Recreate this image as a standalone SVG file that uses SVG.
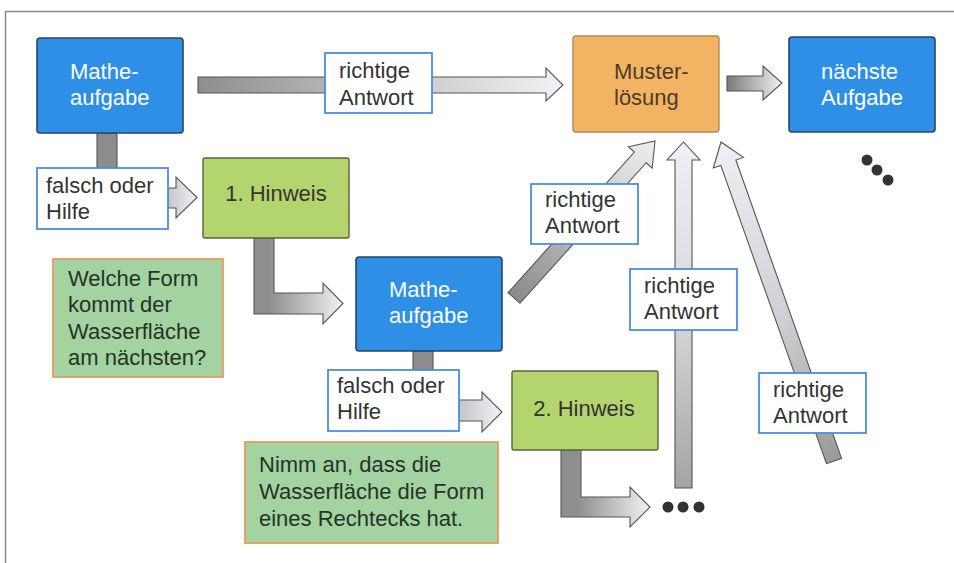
<svg xmlns="http://www.w3.org/2000/svg" width="954" height="563" viewBox="0 0 954 563">
  <defs>
    <style>
      text { font-family: "Liberation Sans", Arial, sans-serif; font-size: 22px; }
      .task { fill: #2e8fe6; stroke: #2b4466; stroke-width: 1.6; }
      .sol { fill: #f2b462; stroke: #b48a5a; stroke-width: 1.4; }
      .hint { fill: #b4d46e; stroke: #55643f; stroke-width: 1.4; }
      .note { fill: #a2d3a0; stroke: #eb9a5c; stroke-width: 1.8; }
      .lbl { fill: #ffffff; stroke: #4a8ee0; stroke-width: 1.8; }
      .wt { fill: #ffffff; }
      .dk { fill: #333333; }
      .nt { fill: #263326; }
      .st { fill: #4a3c2c; }
      .arr { stroke: #555555; stroke-width: 1.1; stroke-linejoin: miter; }
      .dot { fill: #333333; }
    </style>
    <linearGradient id="gTop" gradientUnits="userSpaceOnUse" x1="198" y1="0" x2="563" y2="0">
      <stop offset="0" stop-color="#8e8e8e"/>
      <stop offset="0.45" stop-color="#bdbdbd"/>
      <stop offset="1" stop-color="#f2f2f6"/>
    </linearGradient>
    <linearGradient id="gNext" gradientUnits="userSpaceOnUse" x1="727" y1="0" x2="782" y2="0">
      <stop offset="0" stop-color="#7a7a7a"/>
      <stop offset="1" stop-color="#f2f2f6"/>
    </linearGradient>
    <linearGradient id="gShort1" gradientUnits="userSpaceOnUse" x1="168" y1="0" x2="197" y2="0">
      <stop offset="0" stop-color="#c4c4ca"/>
      <stop offset="1" stop-color="#f2f2f6"/>
    </linearGradient>
    <linearGradient id="gShort2" gradientUnits="userSpaceOnUse" x1="459" y1="0" x2="502" y2="0">
      <stop offset="0" stop-color="#c4c4ca"/>
      <stop offset="1" stop-color="#f2f2f6"/>
    </linearGradient>
    <linearGradient id="gElbow1" gradientUnits="userSpaceOnUse" x1="270" y1="0" x2="343" y2="0">
      <stop offset="0" stop-color="#8e8e8e"/>
      <stop offset="1" stop-color="#f2f2f6"/>
    </linearGradient>
    <linearGradient id="gElbow2" gradientUnits="userSpaceOnUse" x1="577" y1="0" x2="650" y2="0">
      <stop offset="0" stop-color="#8e8e8e"/>
      <stop offset="1" stop-color="#f2f2f6"/>
    </linearGradient>
    <linearGradient id="gDiag" gradientUnits="userSpaceOnUse" x1="514" y1="298" x2="655" y2="141">
      <stop offset="0" stop-color="#8a8a8a"/>
      <stop offset="0.45" stop-color="#bcbcbc"/>
      <stop offset="1" stop-color="#efeff3"/>
    </linearGradient>
    <linearGradient id="gVert" gradientUnits="userSpaceOnUse" x1="0" y1="488" x2="0" y2="142">
      <stop offset="0" stop-color="#a4a4a4"/>
      <stop offset="0.5" stop-color="#d8d8dc"/>
      <stop offset="1" stop-color="#f0f0f4"/>
    </linearGradient>
    <linearGradient id="gRight" gradientUnits="userSpaceOnUse" x1="834" y1="461" x2="721" y2="142">
      <stop offset="0" stop-color="#9a9a9a"/>
      <stop offset="0.45" stop-color="#d0d0d4"/>
      <stop offset="1" stop-color="#f0f0f4"/>
    </linearGradient>
  </defs>

  <rect x="0" y="0" width="954" height="563" fill="#ffffff"/>
  <!-- page frame -->
  <path d="M5.5,563 V11.5 H954" fill="none" stroke="#8a8a8a" stroke-width="1.5"/>

  <!-- connectors -->
  <g id="connectors">
    <!-- Matheaufgabe -> Musterlösung -->
    <polygon class="arr" fill="url(#gTop)" points="198,77 546,77 546,68 563,85 546,101 546,93 198,93"/>
    <!-- Musterlösung -> nächste Aufgabe -->
    <polygon class="arr" fill="url(#gNext)" points="727,76 763,76 763,66 782,83 763,100 763,91 727,91"/>
    <!-- Matheaufgabe down to label -->
    <rect class="arr" x="97" y="133" width="20" height="36" fill="#8c8c8c"/>
    <!-- label -> 1. Hinweis -->
    <polygon class="arr" fill="url(#gShort1)" points="168,188 176,188 176,177 197,197.5 176,218 176,208 168,208"/>
    <!-- 1. Hinweis -> Matheaufgabe 2 -->
    <polygon class="arr" fill="url(#gElbow1)" points="254,238 274,238 274,293 323,293 323,283 343,303.5 323,324 323,314 254,314"/>
    <!-- Matheaufgabe 2 -> Musterlösung (diagonal) -->
    <polygon class="arr" fill="url(#gDiag)" points="508.05,292.66 634.35,152.06 628.4,146.7 655,141 652.2,168.1 646.25,162.74 519.95,303.34"/>
    <!-- Matheaufgabe 2 down to label -->
    <rect class="arr" x="413" y="351" width="20" height="20" fill="#8c8c8c"/>
    <!-- label -> 2. Hinweis -->
    <polygon class="arr" fill="url(#gShort2)" points="459,400 482,400 482,392 502,412 482,432 482,421 459,421"/>
    <!-- 2. Hinweis -> continuation -->
    <polygon class="arr" fill="url(#gElbow2)" points="561,450 581,450 581,497 630,497 630,487 650,507 630,527 630,517 561,517"/>
    <!-- vertical -> Musterlösung -->
    <polygon class="arr" fill="url(#gVert)" points="675,488 675,160 667,160 683.5,142 700,160 692,160 692,488"/>
    <!-- far diagonal -> Musterlösung -->
    <polygon class="arr" fill="url(#gRight)" points="826.46,463.67 720.81,165.37 713.3,168 721,142 743.4,157.4 735.89,160.03 841.54,458.33"/>
  </g>

  <!-- nodes -->
  <g id="mathe1">
    <rect class="task" x="37" y="38" width="146" height="95" rx="3"/>
    <text class="wt" x="70" y="79">Mathe-</text>
    <text class="wt" x="70" y="105">aufgabe</text>
  </g>

  <g id="label-top">
    <rect class="lbl" x="325" y="53" width="107" height="60"/>
    <text class="dk" x="339" y="78">richtige</text>
    <text class="dk" x="339" y="105">Antwort</text>
  </g>

  <g id="musterloesung">
    <rect class="sol" x="573" y="36" width="146" height="96" rx="3"/>
    <text class="st" x="614" y="79">Muster-</text>
    <text class="st" x="614" y="105">lösung</text>
  </g>

  <g id="naechste">
    <rect class="task" x="789" y="37" width="146" height="95" rx="3"/>
    <text class="wt" x="821" y="79">nächste</text>
    <text class="wt" x="821" y="105">Aufgabe</text>
  </g>

  <g id="dots-right">
    <circle class="dot" cx="867" cy="160" r="5.5"/>
    <circle class="dot" cx="877" cy="170" r="5.5"/>
    <circle class="dot" cx="888" cy="180" r="5.5"/>
  </g>

  <g id="label-falsch1">
    <rect class="lbl" x="37" y="168" width="131" height="61"/>
    <text class="dk" x="46" y="193">falsch oder</text>
    <text class="dk" x="46" y="219">Hilfe</text>
  </g>

  <g id="hinweis1">
    <rect class="hint" x="203" y="158" width="146" height="80" rx="2"/>
    <text class="dk" x="276" y="201" text-anchor="middle">1. Hinweis</text>
  </g>

  <g id="note1">
    <rect class="note" x="53" y="259" width="170" height="118"/>
    <text class="nt" x="68" y="286">Welche Form</text>
    <text class="nt" x="68" y="312">kommt der</text>
    <text class="nt" x="68" y="339">Wasserfläche</text>
    <text class="nt" x="68" y="365">am nächsten?</text>
  </g>

  <g id="mathe2">
    <rect class="task" x="356" y="257" width="146" height="94" rx="3"/>
    <text class="wt" x="389" y="297">Mathe-</text>
    <text class="wt" x="389" y="323">aufgabe</text>
  </g>

  <g id="label-diag">
    <rect class="lbl" x="531" y="184" width="107" height="60"/>
    <text class="dk" x="545" y="207">richtige</text>
    <text class="dk" x="545" y="233">Antwort</text>
  </g>

  <g id="label-vert">
    <rect class="lbl" x="630" y="269" width="107" height="61"/>
    <text class="dk" x="644" y="293">richtige</text>
    <text class="dk" x="644" y="319">Antwort</text>
  </g>

  <g id="label-right">
    <rect class="lbl" x="759" y="373" width="107" height="60"/>
    <text class="dk" x="773" y="397">richtige</text>
    <text class="dk" x="773" y="423">Antwort</text>
  </g>

  <g id="label-falsch2">
    <rect class="lbl" x="328" y="370" width="131" height="61"/>
    <text class="dk" x="337" y="393">falsch oder</text>
    <text class="dk" x="337" y="419">Hilfe</text>
  </g>

  <g id="hinweis2">
    <rect class="hint" x="512" y="371" width="146" height="79" rx="2"/>
    <text class="dk" x="584" y="416" text-anchor="middle">2. Hinweis</text>
  </g>

  <g id="note2">
    <rect class="note" x="245" y="442" width="253" height="101"/>
    <text class="nt" x="259" y="472">Nimm an, dass die</text>
    <text class="nt" x="259" y="499">Wasserfläche die Form</text>
    <text class="nt" x="259" y="526">eines Rechtecks hat.</text>
  </g>

  <g id="dots-bottom">
    <circle class="dot" cx="668" cy="507" r="5.5"/>
    <circle class="dot" cx="683" cy="507" r="5.5"/>
    <circle class="dot" cx="699" cy="507" r="5.5"/>
  </g>
</svg>
